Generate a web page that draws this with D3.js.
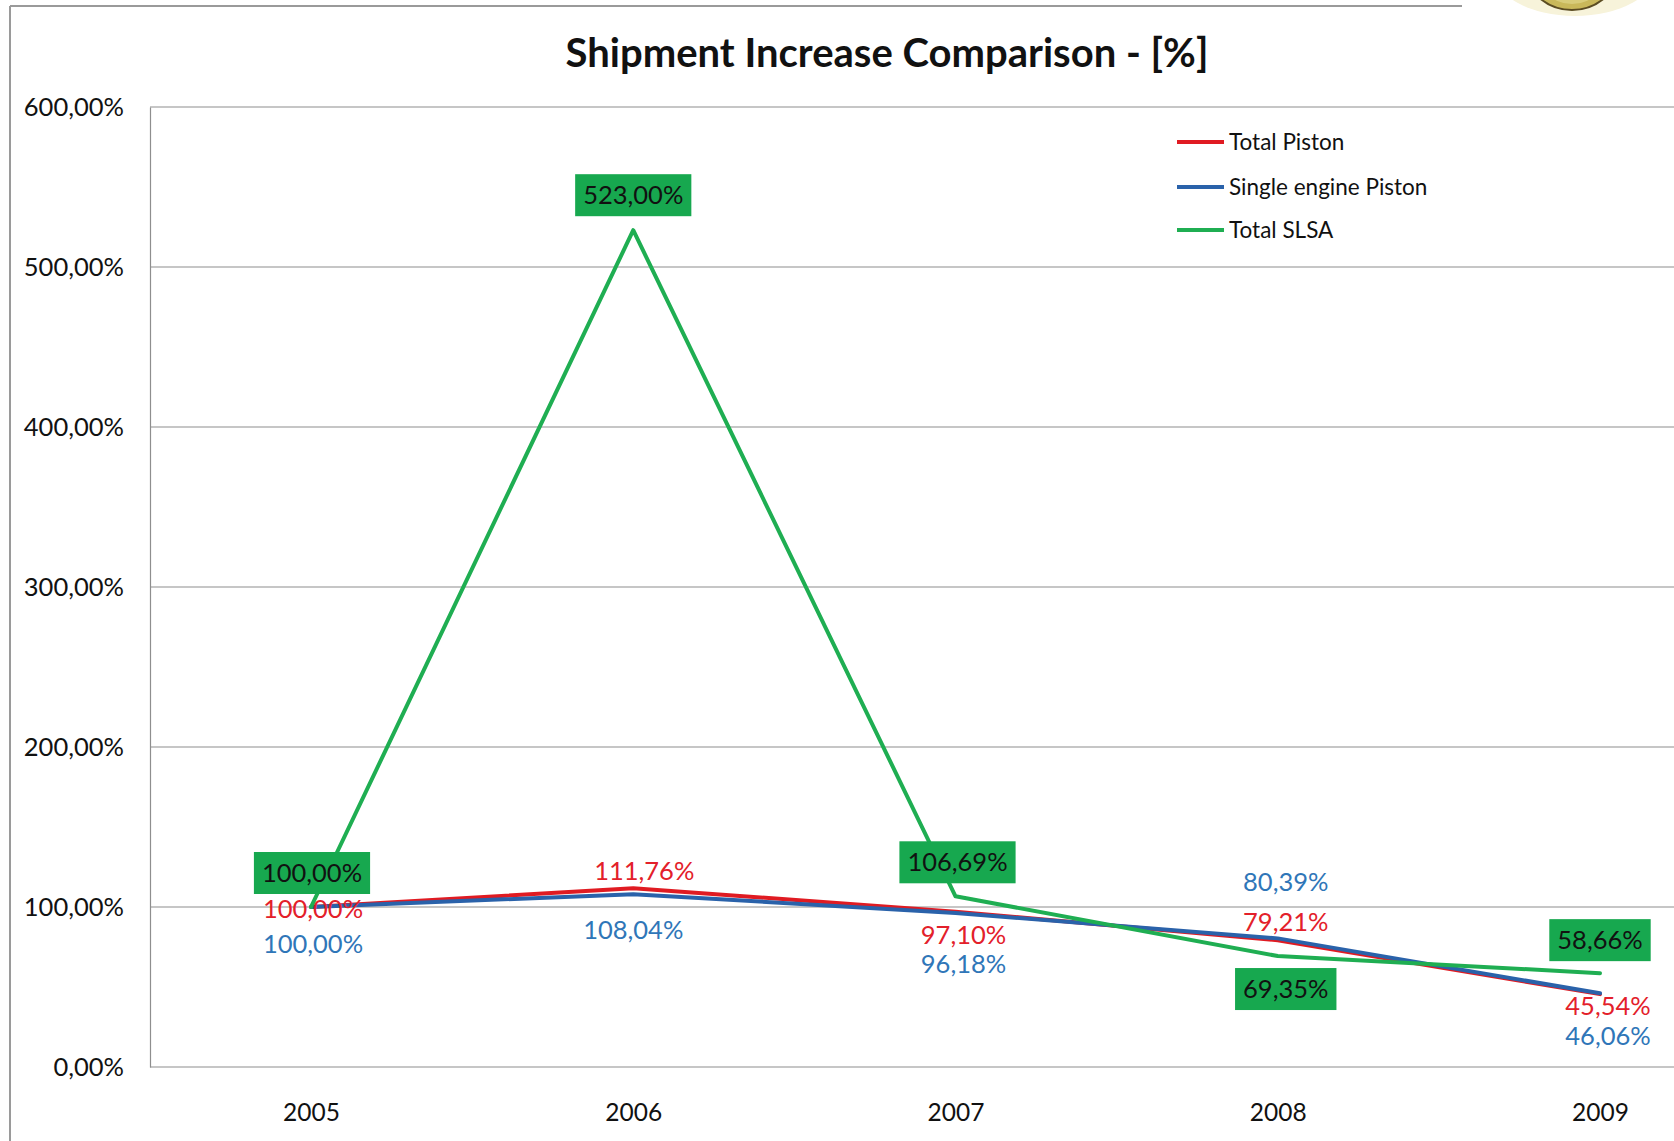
<!DOCTYPE html>
<html>
<head>
<meta charset="utf-8">
<script src="https://cdn.jsdelivr.net/npm/d3@7"></script>
<style>
  html, body { margin: 0; padding: 0; background: #fff; }
  svg { display: block; font-family: Lato, "Open Sans", sans-serif; }
</style>
</head>
<body>
<svg id="chart" width="1674" height="1141"></svg>
<script>
// categories and series (values in %)
const years = ["2005", "2006", "2007", "2008", "2009"];
const totalPiston = [100, 111.76, 97.10, 79.21, 45.54];
const singleEnginePiston = [100, 108.04, 96.18, 80.39, 46.06];
const totalSLSA = [100, 523.00, 106.69, 69.35, 58.66];
const yTicks = [0, 100, 200, 300, 400, 500, 600];

// label offsets from each point (manual placement like in the original)
const redLabelOffsets = [[2, 2], [11, -17], [8, 24], [8, -18], [8, 12]];
const blueLabelOffsets = [[2, 37], [0, 36], [8, 51], [8, -56], [8, 43]];
const greenLabelOffsets = [[1, -34], [0, -35], [2, -34], [8, 33], [0, -33]];

const series = [
  { name: "Total Piston", values: totalPiston, color: "#e01b22", text: "#e3202a", offsets: redLabelOffsets },
  { name: "Single engine Piston", values: singleEnginePiston, color: "#2a62aa", text: "#2f76b8", offsets: blueLabelOffsets },
  { name: "Total SLSA", values: totalSLSA, color: "#1fae52", text: "#111", offsets: greenLabelOffsets, boxed: true }
];

const svg = d3.select("#chart");
const W = +svg.attr("width"), H = +svg.attr("height");

const plotLeft = 150, plotTop = 107, plotBottom = 1067;

const x = d3.scalePoint().domain(years).range([311, 1600]);
const y = d3.scaleLinear().domain([0, 600]).range([plotBottom, plotTop]);

const fmt = v => d3.format(".2f")(v).replace(".", ",") + "%";

// outer chart frame (partly cropped)
svg.append("line").attr("x1", 10).attr("y1", 6).attr("x2", 1462).attr("y2", 6)
  .attr("stroke", "#9a9a9a").attr("stroke-width", 2);
svg.append("line").attr("x1", 10).attr("y1", 6).attr("x2", 10).attr("y2", H)
  .attr("stroke", "#9a9a9a").attr("stroke-width", 2);

// partial emblem top right
const logo = svg.append("g");
logo.append("ellipse").attr("cx", 1575).attr("cy", -30).attr("rx", 82).attr("ry", 46)
  .attr("fill", "#f7f3da");
logo.append("ellipse").attr("cx", 1572).attr("cy", -40).attr("rx", 50).attr("ry", 50)
  .attr("fill", "#c9b85a").attr("stroke", "#5b4c22").attr("stroke-width", 2);
logo.append("ellipse").attr("cx", 1572).attr("cy", -40).attr("rx", 40).attr("ry", 44)
  .attr("fill", "#d8cc7a");

// title
svg.append("text")
  .attr("x", 887).attr("y", 67)
  .attr("text-anchor", "middle")
  .attr("font-size", 40).attr("font-weight", "bold")
  .attr("fill", "#111")
  .text("Shipment Increase Comparison - [%]");

// gridlines
svg.append("g").selectAll("line").data(yTicks).enter().append("line")
  .attr("x1", plotLeft).attr("x2", W)
  .attr("y1", d => y(d)).attr("y2", d => y(d))
  .attr("stroke", "#8e8e8e").attr("stroke-width", 1.2);

// y axis
const yAxis = svg.append("g")
  .attr("transform", `translate(${plotLeft},0)`)
  .call(d3.axisLeft(y).tickValues(yTicks).tickFormat(fmt).tickSize(0).tickPadding(26));
yAxis.select(".domain").attr("stroke", "#8e8e8e").attr("stroke-width", 1.2);
yAxis.selectAll("text").attr("font-size", 25.5).attr("fill", "#111")
  .attr("font-family", "Lato, sans-serif");

// x axis
const xAxis = svg.append("g")
  .attr("transform", `translate(0,${plotBottom})`)
  .call(d3.axisBottom(x).tickSize(0).tickPadding(37));
xAxis.select(".domain").remove();
xAxis.selectAll("text").attr("font-size", 24.5).attr("fill", "#111")
  .attr("font-family", "Lato, sans-serif");

// lines
const line = d3.line()
  .x((d, i) => x(years[i]))
  .y(d => y(d))
  .curve(d3.curveLinear);

series.forEach(s => {
  svg.append("path")
    .datum(s.values)
    .attr("d", line)
    .attr("fill", "none")
    .attr("stroke", s.color)
    .attr("stroke-width", 4)
    .attr("stroke-linejoin", "round")
    .attr("stroke-linecap", "round");
});

// data labels
series.forEach(s => {
  const g = svg.append("g");
  s.values.forEach((v, i) => {
    const cx = x(years[i]) + s.offsets[i][0];
    const cy = y(v) + s.offsets[i][1];
    const lg = g.append("g");
    const t = lg.append("text")
      .attr("x", cx).attr("y", cy + 8.5)
      .attr("text-anchor", "middle")
      .attr("font-size", 25.5)
      .attr("fill", s.text)
      .text(fmt(v));
    if (s.boxed) {
      const bb = t.node().getBBox();
      lg.insert("rect", "text")
        .attr("x", bb.x - 8).attr("y", cy - 21)
        .attr("width", bb.width + 16).attr("height", 42)
        .attr("fill", "#17a84f");
    }
  });
});

// legend
const legend = svg.append("g").attr("transform", "translate(1177,0)");
const legendY = [142, 187, 230];
series.forEach((s, i) => {
  legend.append("line")
    .attr("x1", 0).attr("x2", 47)
    .attr("y1", legendY[i]).attr("y2", legendY[i])
    .attr("stroke", s.color).attr("stroke-width", 4);
  legend.append("text")
    .attr("x", 52).attr("y", legendY[i] + 8)
    .attr("font-size", 22.5).attr("fill", "#111")
    .text(s.name);
});
</script>
</body>
</html>
